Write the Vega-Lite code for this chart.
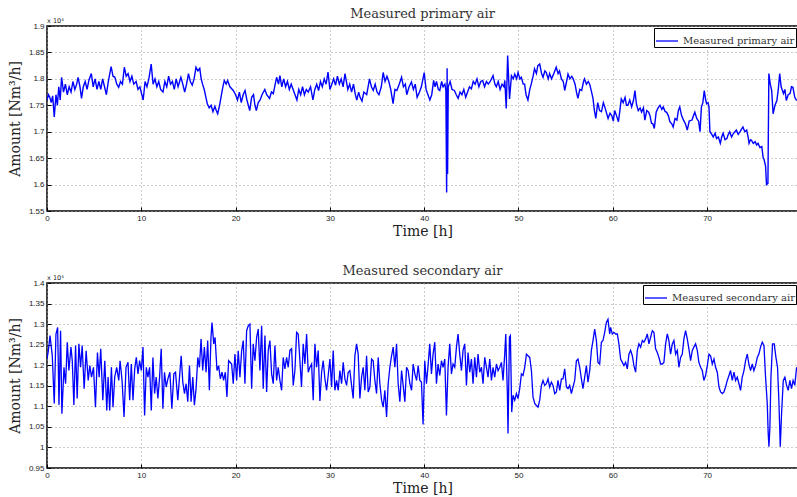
{
"$schema":"https://vega.github.io/schema/vega-lite/v6.json",
"background":"white",
"padding":{"left":7,"top":7,"right":0,"bottom":0},
"bounds":"flush",
"spacing":72,
"config":{
 "view":{"stroke":"black","strokeWidth":1.5},
 "axis":{"gridColor":"#9a9a9a","gridDash":[1,3],"gridWidth":1,"domain":false,"tickColor":"black","tickSize":-4,"tickWidth":1,"labelFont":"Liberation Sans","labelFontSize":8,"labelColor":"#222","labelPadding":7,"labelOverlap":false,"labelFlush":false,"titleFont":"DejaVu Serif","titleFontSize":14,"titleFontWeight":"normal","titleColor":"#222"},
 "title":{"font":"DejaVu Serif","fontSize":13,"fontWeight":"normal","color":"#333","offset":-3},
 "legend":{"orient":"top-right","offset":2,"strokeColor":"black","fillColor":"white","padding":1,"symbolType":"stroke","symbolSize":484,"symbolStrokeWidth":1.3,"labelFont":"DejaVu Serif","labelFontSize":10,"labelColor":"#333","title":null}
},
"datasets":{
"primary":[
{"t":0,"v":17600},{"t":0.15,"v":17700},{"t":0.3,"v":17650},{"t":0.45,"v":17550},{"t":0.6,"v":17680},{"t":0.77,"v":17280},{"t":0.95,"v":17700},{"t":1.1,"v":17500},{"t":1.25,"v":17850},{"t":1.4,"v":17600},{"t":1.55,"v":18030},{"t":1.75,"v":17750},{"t":1.95,"v":17900},{"t":2.15,"v":17700},{"t":2.35,"v":17850},{"t":2.55,"v":17750},{"t":2.75,"v":17950},{"t":2.95,"v":17800},{"t":3.15,"v":17900},{"t":3.3,"v":18030},{"t":3.5,"v":17850},{"t":3.66,"v":17630},{"t":3.85,"v":17850},{"t":4.05,"v":17950},{"t":4.25,"v":17800},{"t":4.45,"v":17980},{"t":4.7,"v":18100},{"t":4.9,"v":17850},{"t":5.1,"v":18000},{"t":5.3,"v":17800},{"t":5.5,"v":17950},{"t":5.7,"v":17800},{"t":5.9,"v":18000},{"t":6.1,"v":17850},{"t":6.3,"v":17700},{"t":6.5,"v":17950},{"t":6.8,"v":18230},{"t":7.0,"v":18050},{"t":7.2,"v":18030},{"t":7.4,"v":17900},{"t":7.6,"v":17840},{"t":7.8,"v":17950},{"t":8.0,"v":17900},{"t":8.2,"v":18220},{"t":8.4,"v":18050},{"t":8.6,"v":18100},{"t":8.8,"v":17950},{"t":9.0,"v":18050},{"t":9.2,"v":17900},{"t":9.45,"v":17950},{"t":9.65,"v":17800},{"t":9.85,"v":17850},{"t":10.2,"v":17600},{"t":10.4,"v":17950},{"t":10.6,"v":17850},{"t":10.8,"v":18000},{"t":11.05,"v":18280},{"t":11.25,"v":17900},{"t":11.45,"v":18000},{"t":11.65,"v":17850},{"t":11.85,"v":17950},{"t":12.05,"v":17800},{"t":12.3,"v":17750},{"t":12.5,"v":17950},{"t":12.7,"v":17850},{"t":12.9,"v":18050},{"t":13.1,"v":17900},{"t":13.3,"v":17950},{"t":13.5,"v":17800},{"t":13.7,"v":18000},{"t":13.9,"v":17850},{"t":14.2,"v":18030},{"t":14.4,"v":17900},{"t":14.6,"v":17750},{"t":14.8,"v":17900},{"t":15.0,"v":18100},{"t":15.2,"v":17950},{"t":15.4,"v":17880},{"t":15.6,"v":18000},{"t":15.8,"v":18220},{"t":16.0,"v":18150},{"t":16.2,"v":18200},{"t":16.35,"v":18000},{"t":16.5,"v":17900},{"t":16.7,"v":17780},{"t":16.85,"v":17650},{"t":17.0,"v":17530},{"t":17.2,"v":17450},{"t":17.4,"v":17500},{"t":17.6,"v":17380},{"t":17.8,"v":17480},{"t":17.95,"v":17400},{"t":18.1,"v":17340},{"t":18.3,"v":17500},{"t":18.45,"v":17650},{"t":18.65,"v":17850},{"t":18.8,"v":17970},{"t":19.0,"v":17900},{"t":19.15,"v":17970},{"t":19.4,"v":17850},
{"t":19.75,"v":17780},{"t":20.0,"v":17700},{"t":20.2,"v":17600},{"t":20.4,"v":17750},{"t":20.6,"v":17550},{"t":20.8,"v":17700},{"t":21.0,"v":17780},{"t":21.2,"v":17600},{"t":21.5,"v":17400},{"t":21.7,"v":17650},{"t":21.9,"v":17700},{"t":22.05,"v":17500},{"t":22.2,"v":17400},{"t":22.4,"v":17550},{"t":22.6,"v":17600},{"t":22.8,"v":17700},{"t":23.1,"v":17800},{"t":23.3,"v":17700},{"t":23.6,"v":17630},{"t":23.8,"v":17750},{"t":24.0,"v":17720},{"t":24.2,"v":17900},{"t":24.35,"v":18030},{"t":24.55,"v":17900},{"t":24.7,"v":18060},{"t":24.9,"v":17850},{"t":25.1,"v":18000},{"t":25.3,"v":17850},{"t":25.5,"v":17950},{"t":25.7,"v":17800},{"t":25.9,"v":17900},{"t":26.1,"v":17800},{"t":26.3,"v":17700},{"t":26.5,"v":17600},{"t":26.7,"v":17800},{"t":26.9,"v":17700},{"t":27.1,"v":17850},{"t":27.3,"v":17700},{"t":27.5,"v":17800},{"t":27.7,"v":17750},{"t":27.95,"v":17850},{"t":28.2,"v":17600},{"t":28.4,"v":17800},{"t":28.6,"v":17900},{"t":28.8,"v":17780},{"t":29.0,"v":17950},{"t":29.2,"v":17850},{"t":29.4,"v":18000},{"t":29.6,"v":17900},{"t":29.8,"v":18130},{"t":30.0,"v":17800},{"t":30.2,"v":17900},{"t":30.4,"v":18000},{"t":30.6,"v":17880},{"t":30.8,"v":18050},{"t":31.0,"v":17900},{"t":31.2,"v":18000},{"t":31.4,"v":17850},{"t":31.6,"v":18100},{"t":31.8,"v":17900},{"t":31.9,"v":17800},{"t":32.1,"v":17900},{"t":32.3,"v":17750},{"t":32.5,"v":17900},{"t":32.7,"v":17700},{"t":32.85,"v":17600},{"t":33.05,"v":17750},{"t":33.2,"v":17650},{"t":33.4,"v":17580},{"t":33.6,"v":17750},{"t":33.9,"v":17700},{"t":34.05,"v":17850},{"t":34.2,"v":18000},{"t":34.4,"v":17850},{"t":34.6,"v":17780},{"t":34.8,"v":17900},{"t":35.0,"v":17750},{"t":35.2,"v":17700},{"t":35.45,"v":17850},{"t":35.65,"v":18120},{"t":35.85,"v":17950},{"t":36.05,"v":18050},{"t":36.25,"v":17950},{"t":36.45,"v":17800},{"t":36.7,"v":17530},{"t":36.9,"v":17800},{"t":37.1,"v":17780},{"t":37.35,"v":17900},{"t":37.6,"v":18030},{"t":37.8,"v":17850},{"t":38.0,"v":17900},{"t":38.15,"v":17700},{"t":38.4,"v":17850},{"t":38.65,"v":17940},{"t":38.85,"v":17800},{"t":39.05,"v":17900},{"t":39.25,"v":17650},{"t":39.5,"v":17750},
{"t":39.7,"v":17850},{"t":40.0,"v":18120},{"t":40.2,"v":17800},{"t":40.4,"v":17700},{"t":40.6,"v":17600},{"t":40.8,"v":17700},{"t":41.0,"v":17970},{"t":41.15,"v":17850},{"t":41.3,"v":17950},{"t":41.5,"v":17800},{"t":41.65,"v":17780},{"t":41.85,"v":17950},{"t":42.0,"v":17850},{"t":42.2,"v":17900},{"t":42.3,"v":17780},{"t":42.38,"v":15850},{"t":42.43,"v":18200},{"t":42.48,"v":16200},{"t":42.55,"v":17850},{"t":42.75,"v":17950},{"t":42.95,"v":17800},{"t":43.2,"v":17780},{"t":43.4,"v":17700},{"t":43.6,"v":17630},{"t":43.8,"v":17750},{"t":44.0,"v":17700},{"t":44.2,"v":17800},{"t":44.4,"v":17650},{"t":44.6,"v":17750},{"t":44.8,"v":17850},{"t":45.0,"v":17810},{"t":45.2,"v":17950},{"t":45.4,"v":17900},{"t":45.6,"v":18000},{"t":45.8,"v":17850},{"t":46.0,"v":17950},{"t":46.2,"v":17970},{"t":46.4,"v":17850},{"t":46.6,"v":17950},{"t":46.8,"v":17900},{"t":47.0,"v":17950},{"t":47.3,"v":18060},{"t":47.5,"v":17900},{"t":47.65,"v":17850},{"t":47.85,"v":17950},{"t":48.05,"v":17800},{"t":48.25,"v":17900},{"t":48.45,"v":17850},{"t":48.55,"v":17970},{"t":48.7,"v":17440},{"t":48.85,"v":18440},{"t":49.05,"v":17620},{"t":49.25,"v":18060},{"t":49.45,"v":18000},{"t":49.6,"v":18090},{"t":49.8,"v":18000},{"t":49.95,"v":18120},{"t":50.15,"v":18000},{"t":50.3,"v":18030},{"t":50.5,"v":17900},{"t":50.65,"v":17900},{"t":50.8,"v":17700},{"t":51.0,"v":17600},{"t":51.2,"v":17800},{"t":51.35,"v":17900},{"t":51.55,"v":18050},{"t":51.7,"v":18190},{"t":51.9,"v":18100},{"t":52.05,"v":18250},{"t":52.25,"v":18280},{"t":52.45,"v":18100},{"t":52.6,"v":18030},{"t":52.8,"v":18150},{"t":52.95,"v":18120},{"t":53.15,"v":18000},{"t":53.3,"v":18100},{"t":53.5,"v":18000},{"t":53.7,"v":18080},{"t":54.0,"v":18220},{"t":54.2,"v":18100},{"t":54.35,"v":18150},{"t":54.55,"v":18000},{"t":54.75,"v":17950},{"t":54.9,"v":17780},{"t":55.1,"v":17950},{"t":55.25,"v":18090},{"t":55.45,"v":18000},{"t":55.65,"v":18050},{"t":55.8,"v":18000},{"t":56.0,"v":17900},{"t":56.15,"v":17750},{"t":56.3,"v":17630},{"t":56.5,"v":17800},{"t":56.7,"v":17780},{"t":56.9,"v":17950},{"t":57.0,"v":18000},{"t":57.2,"v":17900},{"t":57.4,"v":17950},{"t":57.55,"v":17900},{"t":57.75,"v":17750},{"t":57.9,"v":17630},{"t":58.05,"v":17400},{"t":58.2,"v":17250},{"t":58.4,"v":17550},{"t":58.6,"v":17400},{"t":58.8,"v":17380},{"t":59.0,"v":17550},{"t":59.15,"v":17470},
{"t":59.5,"v":17250},{"t":59.7,"v":17350},{"t":59.9,"v":17300},{"t":60.05,"v":17200},{"t":60.2,"v":17400},{"t":60.4,"v":17300},{"t":60.6,"v":17190},{"t":60.75,"v":17400},{"t":60.9,"v":17620},{"t":61.1,"v":17550},{"t":61.3,"v":17650},{"t":61.45,"v":17500},{"t":61.6,"v":17500},{"t":61.8,"v":17600},{"t":62.0,"v":17470},{"t":62.2,"v":17600},{"t":62.35,"v":17780},{"t":62.5,"v":17530},{"t":62.7,"v":17400},{"t":62.9,"v":17450},{"t":63.05,"v":17370},{"t":63.25,"v":17450},{"t":63.4,"v":17220},{"t":63.6,"v":17400},{"t":63.8,"v":17370},{"t":63.95,"v":17300},{"t":64.1,"v":17160},{"t":64.25,"v":17150},{"t":64.4,"v":17060},{"t":64.6,"v":17370},{"t":64.8,"v":17450},{"t":65.0,"v":17500},{"t":65.2,"v":17420},{"t":65.35,"v":17470},{"t":65.55,"v":17380},{"t":65.7,"v":17370},{"t":65.9,"v":17300},{"t":66.05,"v":17190},{"t":66.25,"v":17150},{"t":66.4,"v":17090},{"t":66.6,"v":17250},{"t":66.8,"v":17220},{"t":66.95,"v":17400},{"t":67.1,"v":17470},{"t":67.3,"v":17300},{"t":67.5,"v":17220},{"t":67.7,"v":17150},{"t":67.9,"v":17030},{"t":68.1,"v":17200},{"t":68.4,"v":17220},{"t":68.55,"v":17300},{"t":68.7,"v":17370},{"t":68.9,"v":17250},{"t":69.1,"v":17200},{"t":69.25,"v":17000},{"t":69.4,"v":17470},{"t":69.55,"v":17550},{"t":69.7,"v":17780},{"t":69.85,"v":17600},{"t":69.95,"v":17530},{"t":70.1,"v":17550},{"t":70.2,"v":17470},{"t":70.3,"v":17000},{"t":70.5,"v":16950},{"t":70.65,"v":16900},{"t":70.85,"v":16970},{"t":71.0,"v":16870},{"t":71.2,"v":16900},{"t":71.4,"v":16780},{"t":71.55,"v":16900},{"t":71.7,"v":16970},{"t":71.9,"v":16850},{"t":72.1,"v":16870},{"t":72.25,"v":16950},{"t":72.4,"v":17000},{"t":72.6,"v":16900},{"t":72.8,"v":16970},{"t":72.95,"v":17000},{"t":73.1,"v":17030},{"t":73.3,"v":16950},{"t":73.5,"v":17000},{"t":73.65,"v":17050},{"t":73.8,"v":17090},{"t":74.0,"v":17000},{"t":74.2,"v":17030},{"t":74.35,"v":16900},{"t":74.45,"v":16780},{"t":74.6,"v":16850},{"t":74.7,"v":16840},{"t":74.9,"v":16780},{"t":75.1,"v":16810},{"t":75.25,"v":16750},{"t":75.4,"v":16780},{"t":75.6,"v":16700},{"t":75.8,"v":16720},{"t":75.95,"v":16500},{"t":76.05,"v":16470},{"t":76.2,"v":16350},{"t":76.3,"v":16000},{"t":76.45,"v":16020},{"t":76.55,"v":18100},{"t":76.7,"v":17900},{"t":76.85,"v":17780},{"t":77.0,"v":17340},{"t":77.2,"v":17500},{"t":77.4,"v":17590},{"t":77.55,"v":17800},{"t":77.7,"v":18100},{"t":77.85,"v":17850},{"t":78.1,"v":17720},{"t":78.25,"v":17800},{"t":78.4,"v":17590},{"t":78.6,"v":17700},{"t":78.8,"v":17720},{"t":78.95,"v":17850},{"t":79.1,"v":17840},{"t":79.3,"v":17650},{"t":79.5,"v":17590}
],
"secondary":[
{"t":0,"v":12150},{"t":0.14,"v":12350},{"t":0.32,"v":12720},{"t":0.56,"v":12230},{"t":0.77,"v":11070},{"t":0.95,"v":12760},{"t":1.13,"v":12920},{"t":1.27,"v":11030},{"t":1.44,"v":12840},{"t":1.58,"v":10820},{"t":1.8,"v":11950},{"t":1.97,"v":11550},{"t":2.15,"v":12560},{"t":2.32,"v":11870},{"t":2.54,"v":12440},{"t":2.68,"v":12110},{"t":2.85,"v":11030},{"t":3.03,"v":12480},{"t":3.2,"v":11190},{"t":3.38,"v":12520},{"t":3.56,"v":11950},{"t":3.73,"v":12480},{"t":3.94,"v":11430},{"t":4.15,"v":12350},{"t":4.37,"v":11630},{"t":4.54,"v":11990},{"t":4.72,"v":11710},{"t":4.93,"v":11950},{"t":5.14,"v":10980},{"t":5.35,"v":12310},{"t":5.53,"v":11710},{"t":5.7,"v":12400},{"t":5.92,"v":11150},{"t":6.13,"v":12110},{"t":6.34,"v":10900},{"t":6.48,"v":11710},{"t":6.65,"v":10900},{"t":6.83,"v":11950},{"t":7.0,"v":10980},{"t":7.18,"v":11710},{"t":7.39,"v":11950},{"t":7.61,"v":11630},{"t":7.75,"v":12110},{"t":7.96,"v":11630},{"t":8.17,"v":10740},{"t":8.38,"v":11950},{"t":8.59,"v":12070},{"t":8.77,"v":11150},{"t":8.94,"v":12030},{"t":9.12,"v":11150},{"t":9.3,"v":11910},{"t":9.47,"v":12190},{"t":9.65,"v":11790},{"t":9.82,"v":12110},{"t":10.0,"v":11870},{"t":10.18,"v":12440},{"t":10.35,"v":10780},{"t":10.53,"v":11950},{"t":10.7,"v":11710},{"t":10.88,"v":11950},{"t":11.06,"v":10900},{"t":11.23,"v":12190},{"t":11.41,"v":11310},{"t":11.58,"v":11710},{"t":11.76,"v":11190},{"t":11.94,"v":11710},{"t":12.11,"v":12400},{"t":12.29,"v":10940},{"t":12.46,"v":11830},{"t":12.64,"v":11470},{"t":12.82,"v":11670},{"t":13.03,"v":11830},{"t":13.24,"v":10940},{"t":13.45,"v":11790},{"t":13.63,"v":11830},{"t":13.87,"v":11150},{"t":14.05,"v":11710},{"t":14.23,"v":12230},{"t":14.4,"v":11590},{"t":14.58,"v":11310},{"t":14.75,"v":11550},{"t":14.93,"v":11110},{"t":15.11,"v":11990},{"t":15.28,"v":11110},{"t":15.46,"v":11710},{"t":15.63,"v":11030},{"t":15.81,"v":11430},{"t":15.99,"v":12190},{"t":16.16,"v":11950},{"t":16.34,"v":12640},{"t":16.51,"v":11870},{"t":16.69,"v":12440},{"t":16.87,"v":11830},{"t":17.04,"v":12600},{"t":17.22,"v":11390},{"t":17.39,"v":12680},{"t":17.5,"v":13040},{"t":17.68,"v":12520},{"t":17.82,"v":12680},{"t":18.03,"v":11870},{"t":18.2,"v":11990},{"t":18.38,"v":11670},{"t":18.56,"v":11830},{"t":18.73,"v":11630},{"t":18.91,"v":11830},{"t":19.08,"v":11230},{"t":19.26,"v":12110},
{"t":19.58,"v":12030},{"t":19.75,"v":11550},{"t":19.93,"v":12270},{"t":20.11,"v":11630},{"t":20.28,"v":12350},{"t":20.46,"v":11710},{"t":20.64,"v":12350},{"t":20.81,"v":12600},{"t":20.99,"v":11550},{"t":21.17,"v":12840},{"t":21.34,"v":12960},{"t":21.52,"v":13000},{"t":21.7,"v":11430},{"t":21.87,"v":12520},{"t":22.05,"v":12110},{"t":22.23,"v":12680},{"t":22.4,"v":12880},{"t":22.58,"v":11870},{"t":22.76,"v":12960},{"t":22.93,"v":11430},{"t":23.11,"v":12720},{"t":23.29,"v":11350},{"t":23.46,"v":12360},{"t":23.64,"v":12600},{"t":23.82,"v":11790},{"t":23.99,"v":11550},{"t":24.17,"v":12480},{"t":24.35,"v":11630},{"t":24.52,"v":11950},{"t":24.7,"v":11630},{"t":24.88,"v":11390},{"t":25.05,"v":12190},{"t":25.23,"v":11910},{"t":25.41,"v":12190},{"t":25.58,"v":11950},{"t":25.76,"v":12360},{"t":25.94,"v":12400},{"t":26.11,"v":11510},{"t":26.29,"v":11870},{"t":26.47,"v":12800},{"t":26.64,"v":12760},{"t":26.82,"v":12110},{"t":26.99,"v":11470},{"t":27.17,"v":12520},{"t":27.35,"v":12030},{"t":27.53,"v":12760},{"t":27.7,"v":11830},{"t":27.88,"v":11950},{"t":28.06,"v":12030},{"t":28.23,"v":11150},{"t":28.41,"v":12520},{"t":28.59,"v":11950},{"t":28.76,"v":12360},{"t":28.94,"v":11130},{"t":29.12,"v":11830},{"t":29.29,"v":12110},{"t":29.47,"v":11670},{"t":29.65,"v":11390},{"t":29.82,"v":11750},{"t":30.0,"v":12150},{"t":30.18,"v":11470},{"t":30.35,"v":12360},{"t":30.53,"v":11390},{"t":30.71,"v":11630},{"t":30.88,"v":11390},{"t":31.06,"v":11870},{"t":31.24,"v":11550},{"t":31.41,"v":12070},{"t":31.59,"v":11670},{"t":31.77,"v":11510},{"t":31.94,"v":11830},{"t":32.12,"v":11870},{"t":32.3,"v":11510},{"t":32.47,"v":11190},{"t":32.65,"v":12230},{"t":32.83,"v":12520},{"t":33.0,"v":12270},{"t":33.18,"v":11190},{"t":33.36,"v":11710},{"t":33.53,"v":11950},{"t":33.71,"v":11390},{"t":33.89,"v":12230},{"t":34.06,"v":11350},{"t":34.24,"v":11470},{"t":34.42,"v":12150},{"t":34.59,"v":12110},{"t":34.77,"v":11630},{"t":34.95,"v":11310},{"t":35.12,"v":12190},{"t":35.3,"v":11550},{"t":35.48,"v":11150},{"t":35.65,"v":10980},{"t":35.83,"v":11390},{"t":36.01,"v":10740},{"t":36.18,"v":11550},{"t":36.36,"v":11950},{"t":36.54,"v":12230},{"t":36.71,"v":12440},{"t":36.89,"v":11950},{"t":37.07,"v":12520},{"t":37.24,"v":11550},{"t":37.42,"v":11110},{"t":37.6,"v":11870},{"t":37.77,"v":11510},{"t":37.95,"v":11110},{"t":38.13,"v":11950},{"t":38.3,"v":11870},{"t":38.48,"v":11550},{"t":38.66,"v":11390},{"t":38.83,"v":12030},{"t":39.01,"v":11790},{"t":39.19,"v":11630},{"t":39.36,"v":11990},{"t":39.54,"v":11630},
{"t":39.71,"v":11590},{"t":39.88,"v":10560},{"t":40.06,"v":12110},{"t":40.24,"v":11550},{"t":40.41,"v":11990},{"t":40.59,"v":12520},{"t":40.77,"v":11790},{"t":40.94,"v":12270},{"t":41.12,"v":12560},{"t":41.3,"v":11550},{"t":41.47,"v":12030},{"t":41.65,"v":11750},{"t":41.83,"v":12110},{"t":42.0,"v":11950},{"t":42.18,"v":12150},{"t":42.36,"v":10780},{"t":42.53,"v":11950},{"t":42.71,"v":12520},{"t":42.89,"v":11790},{"t":43.06,"v":12030},{"t":43.24,"v":11950},{"t":43.42,"v":12440},{"t":43.59,"v":12760},{"t":43.77,"v":12270},{"t":43.95,"v":11870},{"t":44.12,"v":12360},{"t":44.3,"v":12520},{"t":44.48,"v":11510},{"t":44.65,"v":12310},{"t":44.83,"v":11830},{"t":45.01,"v":12150},{"t":45.18,"v":11550},{"t":45.36,"v":12190},{"t":45.54,"v":11710},{"t":45.71,"v":12270},{"t":45.89,"v":11830},{"t":46.07,"v":11950},{"t":46.24,"v":11550},{"t":46.42,"v":12190},{"t":46.6,"v":11950},{"t":46.77,"v":11710},{"t":46.95,"v":12150},{"t":47.13,"v":11630},{"t":47.3,"v":11950},{"t":47.48,"v":11710},{"t":47.66,"v":12030},{"t":47.83,"v":11870},{"t":48.01,"v":11950},{"t":48.19,"v":12070},{"t":48.36,"v":11630},{"t":48.54,"v":12270},{"t":48.65,"v":12760},{"t":48.82,"v":11310},{"t":48.89,"v":10340},{"t":49.04,"v":12680},{"t":49.14,"v":12720},{"t":49.28,"v":10860},{"t":49.42,"v":11270},{"t":49.6,"v":11150},{"t":49.78,"v":11310},{"t":49.95,"v":11190},{"t":50.13,"v":11430},{"t":50.31,"v":11790},{"t":50.48,"v":11750},{"t":50.66,"v":11950},{"t":50.84,"v":12270},{"t":51.01,"v":12230},{"t":51.19,"v":12190},{"t":51.37,"v":11870},{"t":51.54,"v":11230},{"t":51.72,"v":11070},{"t":51.9,"v":11020},{"t":52.07,"v":10980},{"t":52.25,"v":11150},{"t":52.43,"v":11510},{"t":52.6,"v":11630},{"t":52.78,"v":11510},{"t":52.96,"v":11550},{"t":53.13,"v":11670},{"t":53.31,"v":11470},{"t":53.49,"v":11590},{"t":53.66,"v":11510},{"t":53.84,"v":11310},{"t":54.02,"v":11350},{"t":54.19,"v":11630},{"t":54.37,"v":11390},{"t":54.55,"v":11670},{"t":54.72,"v":11670},{"t":54.9,"v":11910},{"t":55.08,"v":11470},{"t":55.25,"v":11430},{"t":55.43,"v":11510},{"t":55.61,"v":11310},{"t":55.78,"v":11470},{"t":55.96,"v":11630},{"t":56.14,"v":12110},{"t":56.31,"v":12150},{"t":56.49,"v":11950},{"t":56.67,"v":11670},{"t":56.84,"v":11430},{"t":57.02,"v":11710},{"t":57.2,"v":11990},{"t":57.37,"v":11590},{"t":57.55,"v":11870},{"t":57.73,"v":12360},{"t":57.9,"v":12600},{"t":58.08,"v":12880},{"t":58.26,"v":12600},{"t":58.43,"v":12070},{"t":58.61,"v":12030},{"t":58.79,"v":12560},{"t":58.96,"v":12600},{"t":59.14,"v":12800},{"t":59.32,"v":13040},{"t":59.49,"v":13120},{"t":59.67,"v":12760},
{"t":59.77,"v":12920},{"t":59.95,"v":12760},{"t":60.12,"v":12800},{"t":60.3,"v":12760},{"t":60.48,"v":12760},{"t":60.65,"v":12520},{"t":60.83,"v":12150},{"t":61.01,"v":12070},{"t":61.18,"v":11990},{"t":61.36,"v":12070},{"t":61.54,"v":11910},{"t":61.71,"v":12270},{"t":61.89,"v":12360},{"t":62.07,"v":12230},{"t":62.24,"v":11990},{"t":62.42,"v":11830},{"t":62.6,"v":12360},{"t":62.77,"v":12520},{"t":62.95,"v":12440},{"t":63.13,"v":12600},{"t":63.3,"v":12560},{"t":63.48,"v":12640},{"t":63.66,"v":12760},{"t":63.83,"v":12520},{"t":64.01,"v":12680},{"t":64.19,"v":12840},{"t":64.36,"v":12800},{"t":64.54,"v":12400},{"t":64.72,"v":12310},{"t":64.89,"v":12190},{"t":65.07,"v":12030},{"t":65.25,"v":12030},{"t":65.42,"v":12070},{"t":65.6,"v":12520},{"t":65.78,"v":12760},{"t":65.95,"v":12600},{"t":66.13,"v":12270},{"t":66.31,"v":12520},{"t":66.48,"v":12600},{"t":66.66,"v":12270},{"t":66.84,"v":12360},{"t":67.01,"v":11950},{"t":67.19,"v":12190},{"t":67.37,"v":12270},{"t":67.54,"v":12640},{"t":67.72,"v":12840},{"t":67.9,"v":12640},{"t":68.07,"v":12400},{"t":68.25,"v":12110},{"t":68.43,"v":12360},{"t":68.6,"v":12440},{"t":68.78,"v":12520},{"t":68.96,"v":12360},{"t":69.13,"v":12070},{"t":69.31,"v":11950},{"t":69.49,"v":11870},{"t":69.66,"v":11630},{"t":69.84,"v":11750},{"t":70.02,"v":11990},{"t":70.2,"v":12270},{"t":70.37,"v":12230},{"t":70.55,"v":12030},{"t":70.73,"v":12150},{"t":70.9,"v":11950},{"t":71.08,"v":11830},{"t":71.26,"v":11470},{"t":71.43,"v":11350},{"t":71.61,"v":11310},{"t":71.79,"v":11350},{"t":71.96,"v":11470},{"t":72.14,"v":11630},{"t":72.32,"v":11750},{"t":72.49,"v":11870},{"t":72.67,"v":11630},{"t":72.85,"v":11830},{"t":73.02,"v":11630},{"t":73.2,"v":11710},{"t":73.38,"v":11550},{"t":73.55,"v":11390},{"t":73.73,"v":11710},{"t":73.91,"v":11870},{"t":74.08,"v":12110},{"t":74.26,"v":12270},{"t":74.43,"v":12030},{"t":74.61,"v":11870},{"t":74.79,"v":12030},{"t":74.96,"v":11870},{"t":75.14,"v":11990},{"t":75.32,"v":12190},{"t":75.49,"v":12270},{"t":75.67,"v":12440},{"t":75.85,"v":12560},{"t":76.03,"v":12480},{"t":76.2,"v":11710},{"t":76.38,"v":11070},{"t":76.48,"v":10340},{"t":76.56,"v":10020},{"t":76.66,"v":10500},{"t":76.77,"v":11710},{"t":76.94,"v":12520},{"t":77.12,"v":12520},{"t":77.3,"v":12190},{"t":77.47,"v":11950},{"t":77.61,"v":11150},{"t":77.76,"v":10020},{"t":77.9,"v":10840},{"t":78.08,"v":11630},{"t":78.25,"v":11710},{"t":78.43,"v":11510},{"t":78.6,"v":11390},{"t":78.78,"v":11630},{"t":78.95,"v":11430},{"t":79.12,"v":11630},{"t":79.3,"v":11510},{"t":79.49,"v":11950}
]
},
"resolve":{"scale":{"color":"independent"},"legend":{"color":"independent"}},
"vconcat":[
{
 "title":"Measured primary air",
 "width":751,"height":185,
 "layer":[
  {"data":{"name":"primary"},
   "mark":{"type":"line","strokeWidth":1.4,"clip":true},
   "encoding":{
    "x":{"field":"t","type":"quantitative","scale":{"domain":[0,79.64],"nice":false,"zero":false},"axis":{"values":[0,10,20,30,40,50,60,70],"tickCount":20,"title":"Time [h]","titlePadding":2}},
    "y":{"field":"v","type":"quantitative","scale":{"domain":[15500,19000],"nice":false,"zero":false},"axis":{"values":[15500,16000,16500,17000,17500,18000,18500,19000],"tickCount":20,"labelExpr":"'' + (datum.value/10000)","labelOverlap":false,"title":"Amount [Nm³/h]","titlePadding":6}},
    "color":{"datum":"Measured primary air","scale":{"range":["#0000ff"]}}
   }},
  {"data":{"values":[{"label":"x 10⁴"}]},
   "mark":{"type":"text","align":"left","baseline":"bottom","dy":-2,"font":"DejaVu Sans","fontSize":6.5,"color":"#222"},
   "encoding":{"text":{"field":"label"},"x":{"datum":0},"y":{"datum":19000}}}
 ]
},
{
 "title":"Measured secondary air",
 "width":751,"height":185,
 "layer":[
  {"data":{"name":"secondary"},
   "mark":{"type":"line","strokeWidth":1.3,"clip":true},
   "encoding":{
    "x":{"field":"t","type":"quantitative","scale":{"domain":[0,79.64],"nice":false,"zero":false},"axis":{"values":[0,10,20,30,40,50,60,70],"tickCount":20,"title":"Time [h]","titlePadding":2}},
    "y":{"field":"v","type":"quantitative","scale":{"domain":[9500,14000],"nice":false,"zero":false},"axis":{"values":[9500,10000,10500,11000,11500,12000,12500,13000,13500,14000],"tickCount":20,"labelExpr":"'' + (datum.value/10000)","labelOverlap":false,"title":"Amount [Nm³/h]","titlePadding":6}},
    "color":{"datum":"Measured secondary air","scale":{"range":["#0000ff"]}}
   }},
  {"data":{"values":[{"label":"x 10⁴"}]},
   "mark":{"type":"text","align":"left","baseline":"bottom","dy":-2,"font":"DejaVu Sans","fontSize":6.5,"color":"#222"},
   "encoding":{"text":{"field":"label"},"x":{"datum":0},"y":{"datum":14000}}}
 ]
}
]
}
